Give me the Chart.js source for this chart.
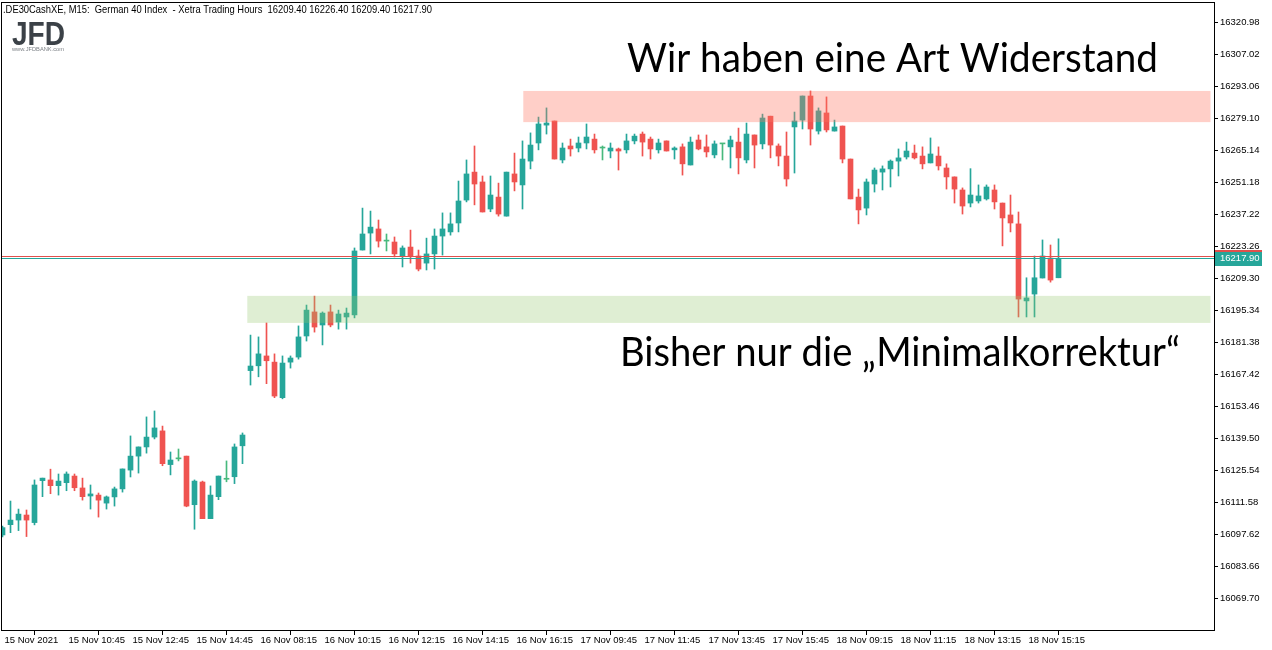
<!DOCTYPE html>
<html>
<head>
<meta charset="utf-8">
<script src="https://cdn.jsdelivr.net/npm/chart.js@4.4.1/dist/chart.umd.min.js"></script>
<style>
  html, body { margin: 0; padding: 0; background: #fff; }
  #wrap { width: 1272px; height: 650px; }
</style>
</head>
<body>
<div id="wrap"><canvas id="chart" width="1272" height="650"></canvas></div>
<script>
// M15 bars of .DE30CashXE (estimated)
const opens = [
  16097.2, 16101.7, 16103.7, 16105.9, 16102.6, 16120.9, 16121.2, 16118.7, 16120.0, 16122.9,
  16117.7, 16114.2, 16114.6, 16111.1, 16113.8, 16117.3, 16125.5, 16131.6, 16135.6, 16139.9,
  16142.6, 16127.9, 16130.4, 16131.6, 16110.4, 16120.3, 16104.3, 16113.9, 16121.5, 16122.6,
  16136.1, 16168.9, 16171.0, 16175.3, 16172.6, 16157.1, 16172.6, 16174.8, 16184.0, 16194.5,
  16188.8, 16194.5, 16190.1, 16192.3, 16193.2, 16221.5, 16228.9, 16230.7, 16225.4, 16225.0,
  16218.9, 16222.8, 16218.9, 16215.8, 16219.8, 16227.6, 16229.4, 16233.3, 16243.3, 16255.5,
  16251.2, 16239.4, 16244.6, 16236.3, 16254.7, 16249.9, 16260.3, 16268.2, 16276.0, 16277.8,
  16260.8, 16266.9, 16266.0, 16268.2, 16269.9, 16266.0, 16264.7, 16265.6, 16265.2, 16269.1,
  16272.1, 16269.9, 16265.2, 16269.1, 16265.2, 16266.5, 16258.6, 16269.5, 16266.5, 16263.0,
  16267.8, 16266.5, 16268.6, 16260.8, 16271.7, 16267.8, 16279.9, 16266.9, 16262.5, 16275.2,
  16278.2, 16288.7, 16273.4, 16281.3, 16273.4, 16275.6, 16261.2, 16244.6, 16239.8, 16250.3,
  16255.5, 16256.9, 16260.3, 16262.1, 16263.8, 16262.5, 16259.5, 16262.5, 16257.3, 16253.4,
  16247.7, 16242.0, 16242.9, 16243.8, 16247.7, 16242.0, 16236.8, 16232.9, 16199.3, 16202.3,
  16209.3, 16218.0, 16209.4
];
const highs = [
  16101.1, 16112.0, 16108.5, 16108.1, 16121.2, 16122.0, 16125.9, 16123.8, 16124.7, 16123.8,
  16122.0, 16119.0, 16115.5, 16114.2, 16118.1, 16126.0, 16140.4, 16135.6, 16148.7, 16151.3,
  16144.7, 16133.4, 16134.7, 16131.6, 16121.2, 16120.7, 16118.6, 16122.9, 16129.5, 16136.9,
  16141.7, 16184.4, 16183.6, 16189.7, 16176.2, 16175.3, 16175.3, 16188.4, 16197.5, 16201.4,
  16194.5, 16197.5, 16195.3, 16196.2, 16222.4, 16239.8, 16238.5, 16234.6, 16228.5, 16227.2,
  16223.3, 16230.2, 16221.5, 16226.7, 16230.7, 16237.7, 16237.7, 16251.6, 16260.8, 16266.9,
  16253.8, 16253.8, 16250.7, 16255.5, 16263.8, 16269.1, 16272.6, 16279.5, 16283.5, 16277.8,
  16268.2, 16269.9, 16270.8, 16276.5, 16272.1, 16266.9, 16268.2, 16266.0, 16272.1, 16272.1,
  16273.0, 16270.8, 16269.9, 16269.1, 16266.5, 16267.8, 16270.8, 16271.7, 16271.7, 16269.1,
  16267.8, 16271.2, 16274.7, 16276.9, 16271.7, 16280.8, 16279.9, 16267.8, 16273.0, 16281.7,
  16288.7, 16290.9, 16283.5, 16288.3, 16278.2, 16275.6, 16261.2, 16248.1, 16252.5, 16257.3,
  16258.2, 16260.8, 16265.6, 16268.6, 16267.3, 16266.5, 16270.4, 16266.5, 16259.1, 16253.4,
  16248.6, 16257.0, 16249.9, 16249.9, 16249.9, 16242.0, 16245.5, 16238.1, 16209.4, 16218.9,
  16225.9, 16223.7, 16226.4
];
const lows = [
  16096.3, 16098.2, 16099.1, 16096.5, 16101.6, 16113.9, 16115.2, 16114.6, 16116.5, 16116.5,
  16112.4, 16108.5, 16105.0, 16108.5, 16109.8, 16115.9, 16122.5, 16124.2, 16132.9, 16139.1,
  16127.4, 16123.4, 16129.5, 16109.5, 16099.7, 16104.3, 16104.3, 16112.6, 16120.4, 16119.6,
  16128.3, 16162.6, 16166.2, 16163.2, 16157.1, 16156.6, 16170.0, 16173.9, 16181.8, 16185.7,
  16180.1, 16188.0, 16187.0, 16187.0, 16191.9, 16221.5, 16219.8, 16222.8, 16221.1, 16218.5,
  16214.1, 16215.8, 16212.4, 16212.8, 16213.2, 16219.3, 16228.0, 16229.4, 16242.5, 16241.2,
  16238.1, 16238.2, 16236.3, 16236.3, 16247.3, 16239.4, 16256.9, 16265.2, 16272.1, 16261.2,
  16259.5, 16262.5, 16264.3, 16265.6, 16263.8, 16260.8, 16261.7, 16256.4, 16263.8, 16267.8,
  16262.5, 16261.2, 16263.8, 16264.7, 16261.2, 16254.2, 16258.6, 16265.2, 16262.1, 16261.7,
  16260.8, 16257.3, 16254.7, 16259.5, 16257.3, 16265.6, 16261.7, 16258.2, 16249.4, 16255.1,
  16274.3, 16267.3, 16272.1, 16273.0, 16273.4, 16259.5, 16243.8, 16232.9, 16236.8, 16246.8,
  16247.7, 16249.0, 16253.8, 16261.2, 16261.2, 16256.9, 16259.5, 16256.4, 16248.1, 16242.0,
  16237.2, 16240.3, 16242.0, 16243.3, 16239.4, 16223.3, 16229.4, 16192.3, 16192.3, 16192.3,
  16209.3, 16207.5, 16209.4
];
const closes = [
  16100.4, 16103.7, 16106.3, 16103.7, 16119.0, 16122.0, 16118.7, 16120.7, 16123.8, 16117.8,
  16113.9, 16115.1, 16112.4, 16113.8, 16117.3, 16126.0, 16131.6, 16135.6, 16139.9, 16143.9,
  16128.3, 16129.9, 16130.4, 16109.8, 16120.7, 16104.3, 16114.6, 16122.9, 16121.5, 16135.6,
  16140.8, 16170.9, 16176.2, 16173.2, 16157.8, 16172.2, 16174.4, 16183.6, 16195.3, 16187.9,
  16194.0, 16188.8, 16193.6, 16194.0, 16221.1, 16228.5, 16231.5, 16225.4, 16225.4, 16219.8,
  16222.4, 16218.9, 16213.2, 16219.8, 16227.6, 16230.7, 16232.9, 16242.9, 16254.7, 16250.3,
  16238.1, 16245.5, 16237.2, 16255.5, 16251.2, 16261.2, 16267.3, 16276.5, 16276.9, 16261.2,
  16266.0, 16265.6, 16268.2, 16270.8, 16265.2, 16266.0, 16266.0, 16264.7, 16269.1, 16271.2,
  16268.6, 16265.6, 16268.2, 16264.7, 16266.0, 16259.1, 16268.6, 16265.6, 16264.3, 16267.8,
  16267.8, 16269.5, 16261.7, 16272.1, 16267.3, 16279.1, 16267.3, 16262.5, 16252.5, 16277.8,
  16288.7, 16274.3, 16282.2, 16273.9, 16275.2, 16261.2, 16243.8, 16239.0, 16251.2, 16256.4,
  16256.9, 16260.3, 16261.7, 16264.7, 16261.7, 16259.1, 16263.4, 16258.2, 16253.4, 16248.1,
  16240.7, 16245.5, 16245.1, 16249.0, 16242.5, 16235.5, 16233.3, 16200.1, 16200.6, 16209.4,
  16218.9, 16208.4, 16217.9
];

// one label every 8 bars (2 hours)
const xTickLabels = [
  '15 Nov 2021', '15 Nov 10:45', '15 Nov 12:45', '15 Nov 14:45', '16 Nov 08:15',
  '16 Nov 10:15', '16 Nov 12:15', '16 Nov 14:15', '16 Nov 16:15', '17 Nov 09:45',
  '17 Nov 11:45', '17 Nov 13:45', '17 Nov 15:45', '18 Nov 09:15', '18 Nov 11:15',
  '18 Nov 13:15', '18 Nov 15:15'
];
const yTicks = [
  16320.98, 16307.02, 16293.06, 16279.10, 16265.14, 16251.18, 16237.22, 16223.26, 16209.30,
  16195.34, 16181.38, 16167.42, 16153.46, 16139.50, 16125.54, 16111.58, 16097.62, 16083.66, 16069.70
];

// drawn zones: bar index from/to, price high/low
const zoneFrom = [65.1, 30.6];
const zoneTo = [151.0, 151.0];
const zoneHigh = [16290.9, 16201.5];
const zoneLow = [16277.3, 16189.7];

const lastBid = 16217.90;
const lastAsk = 16219.00;

const headerText = '.DE30CashXE, M15:  German 40 Index  - Xetra Trading Hours  16209.40 16226.40 16209.40 16217.90';
const noteTop = 'Wir haben eine Art Widerstand';
const noteBottom = 'Bisher nur die \u201EMinimalkorrektur\u201C';

const UP = '#26a69a';
const DOWN = '#ef5350';
const DOJI = '#47b97d';
const ZONE_COLORS = ['rgba(255, 118, 98, 0.35)', 'rgba(150, 200, 110, 0.3)'];
const TICK_FONT = { family: 'Liberation Sans', size: 9.5 };

const bars = opens.map((o, i) => i);
const barColors = bars.map(i => closes[i] > opens[i] ? UP : (closes[i] < opens[i] ? DOWN : DOJI));

function fitText(ctx, text, x, y, width, font) {
  ctx.save();
  ctx.font = font;
  const w = ctx.measureText(text).width;
  ctx.translate(x, y);
  ctx.scale(width / w, 1);
  ctx.fillText(text, 0, 0);
  ctx.restore();
}

// no extra room for labels at the ends of the axes
function noEdgePadding(s) {
  s.paddingTop = 0;
  s.paddingBottom = 0;
  s.paddingLeft = 0;
  s.paddingRight = 0;
}

const overlay = {
  id: 'overlay',
  afterDatasetsDraw(chart) {
    const { ctx, chartArea: a, scales: { x, y } } = chart;
    ctx.save();
    ctx.beginPath();
    ctx.rect(a.left, a.top, a.right - a.left, a.bottom - a.top);
    ctx.clip();
    // zones lie over the candles
    zoneFrom.forEach((from, k) => {
      const x0 = x.getPixelForValue(from), x1 = x.getPixelForValue(zoneTo[k]);
      const y0 = y.getPixelForValue(zoneHigh[k]), y1 = y.getPixelForValue(zoneLow[k]);
      ctx.fillStyle = ZONE_COLORS[k];
      ctx.fillRect(x0, y0, x1 - x0, y1 - y0);
    });
    // bid / ask lines
    ctx.lineWidth = 1;
    [[lastAsk, '#e0504c'], [lastBid, '#26a69a']].forEach(([p, c]) => {
      const py = Math.round(y.getPixelForValue(p)) + 0.5;
      ctx.strokeStyle = c;
      ctx.beginPath();
      ctx.moveTo(a.left, py);
      ctx.lineTo(a.right, py);
      ctx.stroke();
    });
    // notes
    ctx.fillStyle = '#000';
    ctx.textBaseline = 'alphabetic';
    fitText(ctx, noteTop, 627, 72, 531, '40px Lato');
    fitText(ctx, noteBottom, 620, 366, 560, '40px Lato');
    ctx.restore();
  },
  afterDraw(chart) {
    const { ctx, chartArea: a, scales: { y } } = chart;
    ctx.save();
    // frame
    ctx.strokeStyle = '#000';
    ctx.lineWidth = 1;
    ctx.strokeRect(a.left - 0.5, a.top - 0.5, a.right - a.left + 1, a.bottom - a.top + 1);
    // header
    ctx.fillStyle = '#000';
    ctx.textBaseline = 'middle';
    fitText(ctx, headerText, 3, 9.5, 429, '11px "Liberation Sans"');
    // logo
    ctx.fillStyle = '#3b4147';
    ctx.textBaseline = 'alphabetic';
    fitText(ctx, 'JFD', 12, 45, 53, 'bold 33px "Liberation Sans"');
    ctx.fillStyle = '#7a7f84';
    fitText(ctx, 'www.JFDBANK.com', 12, 51, 52, '6px "Liberation Sans"');
    // price label on the axis
    const py = Math.round(y.getPixelForValue(lastBid));
    ctx.fillStyle = UP;
    ctx.fillRect(a.right + 1, py - 7, 47, 15);
    ctx.fillStyle = '#e0504c';
    ctx.fillRect(a.right + 1, py - 8, 47, 2);
    ctx.fillStyle = '#fff';
    ctx.font = '9.5px "Liberation Sans"';
    ctx.textBaseline = 'middle';
    ctx.fillText(lastBid.toFixed(2), a.right + 6, py + 0.5);
    ctx.restore();
  }
};

new Chart(document.getElementById('chart'), {
  type: 'bar',
  data: {
    datasets: [
      {
        label: 'body',
        data: bars.map(i => ({ x: i, y: [opens[i], closes[i]] })),
        backgroundColor: barColors,
        barThickness: 5,
        minBarLength: 1,
        grouped: false,
        borderWidth: 0
      },
      {
        label: 'wick',
        data: bars.map(i => ({ x: i, y: [lows[i], highs[i]] })),
        backgroundColor: barColors,
        barThickness: 1,
        grouped: false,
        borderWidth: 0
      }
    ]
  },
  options: {
    responsive: false,
    animation: false,
    events: [],
    layout: { padding: { left: 2, top: 3, right: 0, bottom: 0 } },
    plugins: { legend: { display: false }, tooltip: { enabled: false } },
    scales: {
      x: {
        type: 'linear',
        offset: false,
        min: -0.0625,
        max: 151.4375,
        afterBuildTicks: s => { s.ticks = xTickLabels.map((t, k) => ({ value: k * 8 })); },
        afterFit: s => { s.height = 20; noEdgePadding(s); },
        grid: { drawOnChartArea: false, drawTicks: true, tickLength: 5, color: '#000' },
        border: { display: false },
        ticks: {
          autoSkip: false, maxRotation: 0, align: 'start', labelOffset: 2, padding: 0,
          color: '#000', font: TICK_FONT,
          callback: v => xTickLabels[Math.round(v / 8)]
        }
      },
      y: {
        position: 'right',
        min: 16055.74,
        max: 16329.27,
        afterBuildTicks: s => { s.ticks = yTicks.map(v => ({ value: v })); },
        afterFit: s => { s.width = 58; noEdgePadding(s); },
        grid: { drawOnChartArea: false, drawTicks: true, tickLength: 4, color: '#000' },
        border: { display: false },
        ticks: {
          padding: 2, color: '#000', font: TICK_FONT,
          callback: v => v.toFixed(2)
        }
      }
    }
  },
  plugins: [overlay]
});
</script>
</body>
</html>
